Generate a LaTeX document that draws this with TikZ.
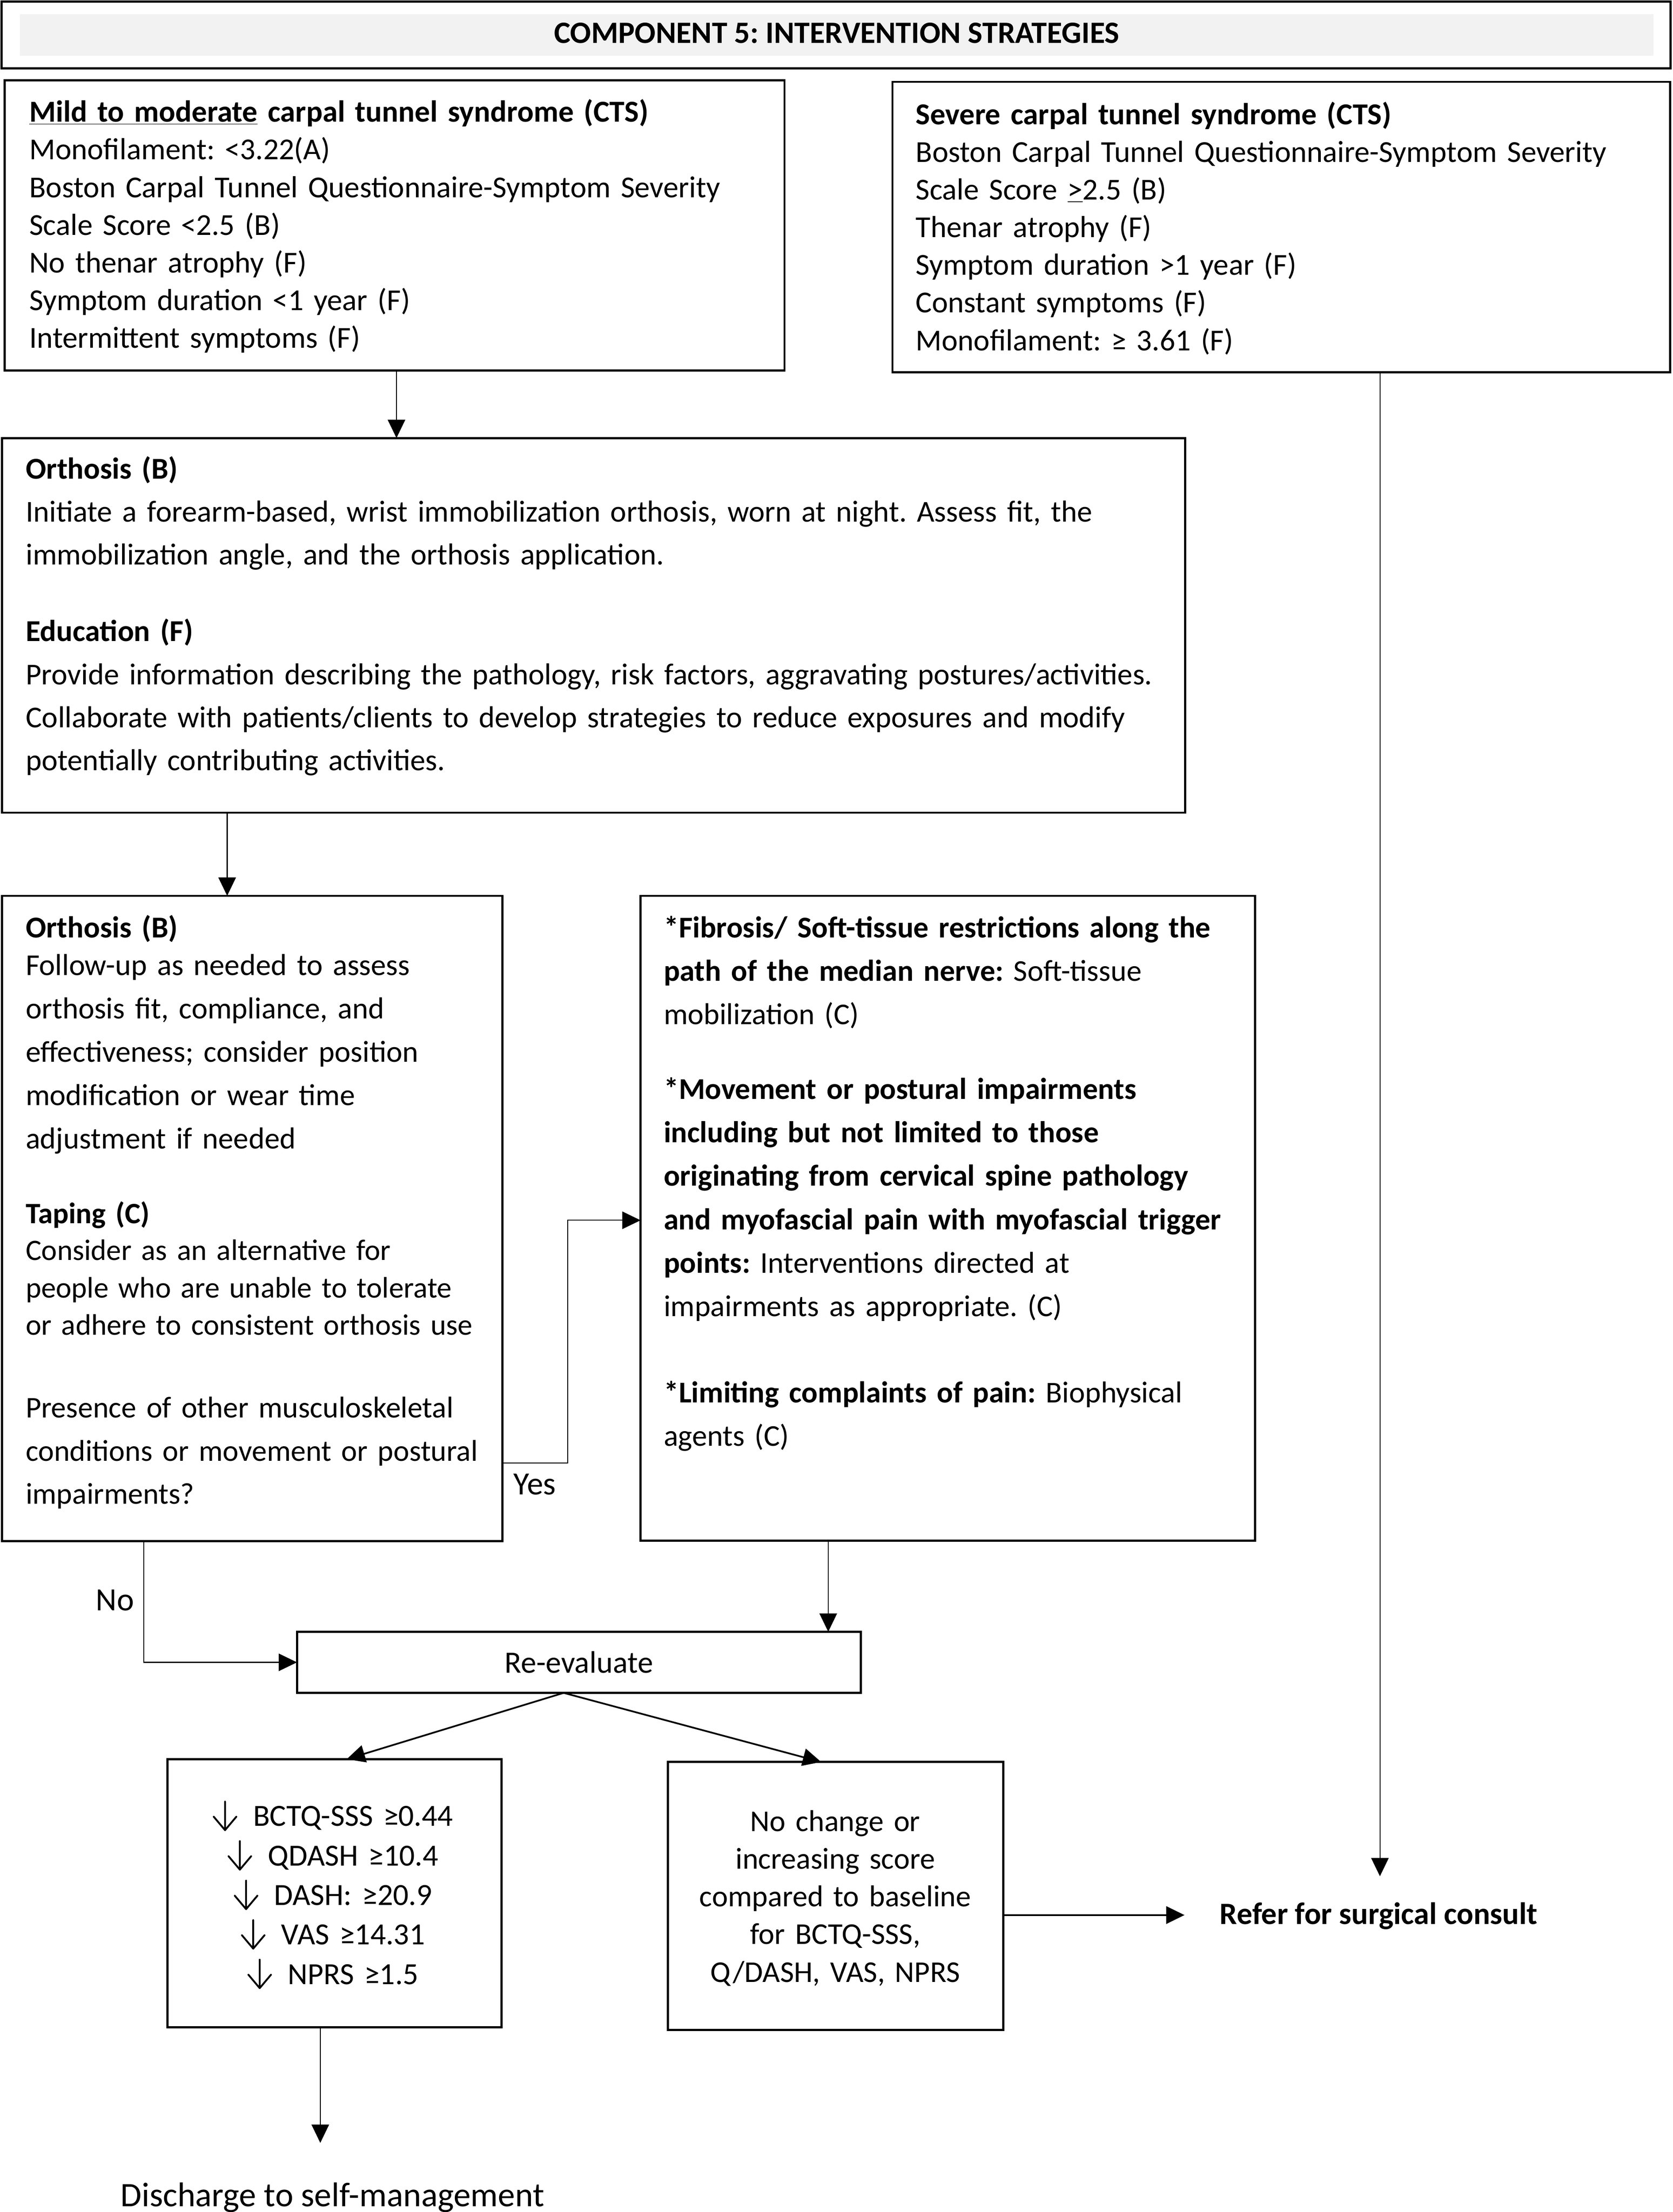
\documentclass[tikz,border=0pt]{standalone}
\usepackage{fontspec}
\setmainfont{Carlito}
\usetikzlibrary{arrows.meta,calc}
\definecolor{bandgray}{RGB}{242,242,242}
\newcommand\fsTop{\fontsize{21.6}{26.7}\selectfont}
\newcommand\fsA{\fontsize{21.5}{30.5}\selectfont}
\newcommand\fsB{\fontsize{21.5}{30.7}\selectfont}
\newcommand\fsC{\fontsize{21}{26.55}\selectfont}
\newcommand\fsE{\fontsize{21.3}{30.6}\selectfont}
\newcommand\fsD{\fontsize{21.4}{30.8}\selectfont}
\newcommand\bigdarr{\tikz[baseline=0pt,x=1pt,y=1pt]\draw[line width=1.3pt, line cap=round, line join=round] (0,17.4) -- (0,-2.8) (-8,6.7) -- (0,-2.8) -- (8,6.7);\hspace{4pt}}
\frenchspacing
\begin{document}
\begin{tikzpicture}[x=1pt,y=-1pt,
  box/.style={draw=black, line width=1.5pt, inner sep=0pt, outer sep=0pt, anchor=north west},
  conn/.style={line width=0.7pt, -{Triangle[length=13pt,width=12.4pt]}},
  connb/.style={line width=1.2pt, -{Triangle[length=13pt,width=12.4pt]}},
  para/.style={inner sep=0pt, outer sep=0pt, anchor=base west, text width=850pt, align=left},
  ctext/.style={inner sep=0pt, outer sep=0pt, anchor=base, text width=#1, align=center},
  lbl/.style={inner sep=0pt, outer sep=0pt, anchor=base west}
]
\useasboundingbox (0,0) rectangle (1185.7,1568);

% header
\node[box, minimum width=1182.8pt, minimum height=47.2pt] (hdr) at (1.2,1.2) {};
\node[inner sep=0pt, outer sep=0pt, anchor=north west, fill=bandgray, minimum width=1158pt, minimum height=29.5pt] (band) at (14,10) {};
\node[inner sep=0pt, anchor=base, font=\fontsize{22}{24}\selectfont\bfseries] (hdrt) at (593,30.5) {COMPONENT 5: INTERVENTION STRATEGIES};

% boxes
\node[box, minimum width=552.8pt, minimum height=205.7pt] (tl) at (3.2,57) {};
\node[box, minimum width=551.1pt, minimum height=206pt] (tr) at (632.5,58) {};
\node[box, minimum width=838.7pt, minimum height=265.6pt] (orth) at (1.3,310.5) {};
\node[box, minimum width=354.5pt, minimum height=457.5pt] (orth2) at (1.5,635) {};
\node[box, minimum width=435.5pt, minimum height=457pt] (fib) at (454,635) {};
\node[box, minimum width=399.5pt, minimum height=43.3pt] (reeval) at (210.5,1156.7) {};
\node[box, minimum width=236.8pt, minimum height=190pt] (res1) at (118.7,1247) {};
\node[box, minimum width=237.6pt, minimum height=190pt] (res2) at (473.4,1249) {};

% texts
\node[para, font=\fsTop] (tlt) at (20.8,86.5) {\textbf{\underline{Mild to moderate} carpal tunnel syndrome (CTS)}\\
Monofilament: <3.22(A)\\
Boston Carpal Tunnel Questionnaire-Symptom Severity\\
Scale Score <2.5 (B)\\
No thenar atrophy (F)\\
Symptom duration <1 year (F)\\
Intermittent symptoms (F)};

\node[para, font=\fsTop] (trt) at (649,88.2) {\textbf{Severe carpal tunnel syndrome (CTS)}\\
Boston Carpal Tunnel Questionnaire-Symptom Severity\\
Scale Score \underline{>}2.5 (B)\\
Thenar atrophy (F)\\
Symptom duration >1 year (F)\\
Constant symptoms (F)\\
Monofilament: ≥ 3.61 (F)};

\node[para, font=\fsA] (orthA) at (18.3,339.4) {\textbf{Orthosis (B)}\\
Initiate a forearm-based, wrist immobilization orthosis, worn at night. Assess fit, the\\
immobilization angle, and the orthosis application.};
\node[para, font=\fsA] (orthB) at (18.3,454.7) {\textbf{Education (F)}\\
Provide information describing the pathology, risk factors, aggravating postures/activities.\\
Collaborate with patients/clients to develop strategies to reduce exposures and modify\\
potentially contributing activities.};

\node[para, font=\fsB] (o2a) at (18.2,664.6) {\textbf{Orthosis (B)}};
\node[para, font=\fsB] (o2b) at (18.2,691.4) {Follow-up as needed to assess\\
orthosis fit, compliance, and\\
effectiveness; consider position\\
modification or wear time\\
adjustment if needed};
\node[para, font=\fsC] (o2c) at (18.2,867.3) {\textbf{Taping (C)}};
\node[para, font=\fsC] (o2d) at (18.2,893.3) {Consider as an alternative for\\
people who are unable to tolerate\\
or adhere to consistent orthosis use};
\node[para, font=\fsE] (o2e) at (18.2,1005) {Presence of other musculoskeletal\\
conditions or movement or postural\\
impairments?};

\node[para, font=\fsD] (fa) at (470.4,664.6) {\textbf{*Fibrosis/ Soft-tissue restrictions along the}\\
\textbf{path of the median nerve:} Soft-tissue\\
mobilization (C)};
\node[para, font=\fsD] (fb) at (470.4,779.1) {\textbf{*Movement or postural impairments}\\
\textbf{including but not limited to those}\\
\textbf{originating from cervical spine pathology}\\
\textbf{and myofascial pain with myofascial trigger}\\
\textbf{points:} Interventions directed at\\
impairments as appropriate. (C)};
\node[para, font=\fsD] (fc) at (470.4,994.1) {\textbf{*Limiting complaints of pain:} Biophysical\\
agents (C)};

\node[inner sep=0pt, font=\fontsize{22}{25}\selectfont] (ret) at (reeval.center) {Re-evaluate};

\node[ctext=236pt, font=\fontsize{21.8}{28}\selectfont] (r1t) at (236,1294.5) {\bigdarr{} BCTQ-SSS ≥0.44\\
\bigdarr{} QDASH ≥10.4\\
\bigdarr{} DASH: ≥20.9\\
\bigdarr{} VAS ≥14.31\\
\bigdarr{} NPRS ≥1.5};
\node[ctext=236pt, font=\fontsize{21.4}{26.75}\selectfont] (r2t) at (592,1298) {No change or\\
increasing score\\
compared to baseline\\
for BCTQ-SSS,\\
Q/DASH, VAS, NPRS};

\node[lbl, font=\fontsize{22}{25}\selectfont\bfseries] (refer) at (864.5,1364) {Refer for surgical consult};
\node[lbl, font=\fontsize{24.3}{27}\selectfont] (disch) at (85.5,1564) {Discharge to self-management};
\node[lbl, font=\fontsize{23}{25}\selectfont] (yes) at (364,1059.5) {Yes};
\node[lbl, font=\fontsize{23}{25}\selectfont] (no) at (68,1141.5) {No};

% connectors
\coordinate (c1) at ([xshift=1.4pt]tl.south);
\draw[conn] (c1) -- (c1 |- orth.north);
\coordinate (srg) at (978,1330);
\draw[conn] (srg |- tr.south) -- (srg);
\coordinate (c3) at ([xshift=159.7pt]orth.south west);
\draw[conn] (c3) -- (c3 |- orth2.north);
\coordinate (yb) at (402.4,865);
\draw[conn] ([yshift=55.5pt]orth2.south east) -| (yb) -- (yb -| fib.west);
\coordinate (nb) at ([xshift=100.5pt]orth2.south west);
\draw[conn] (nb) |- (reeval.west);
\coordinate (f1) at ([xshift=133pt]fib.south west);
\draw[conn] (f1) -- (f1 |- reeval.north);
\coordinate (rb) at ([xshift=189pt]reeval.south west);
\coordinate (r1top) at ([xshift=127pt]res1.north west);
\coordinate (r2top) at ([xshift=108.6pt]res2.north west);
\draw[connb] (rb) -- (r1top);
\draw[connb] (rb) -- (r2top);
\coordinate (r2e) at ([yshift=-13.5pt]res2.east);
\coordinate (rfa) at ([xshift=-25pt]refer.west |- r2e);
\draw[connb] (r2e) -- (rfa);
\coordinate (r1b) at ([xshift=108.3pt]res1.south west);
\coordinate (dtop) at (227,1519);
\draw[conn] (r1b) -- (r1b |- dtop);
\end{tikzpicture}
\end{document}
